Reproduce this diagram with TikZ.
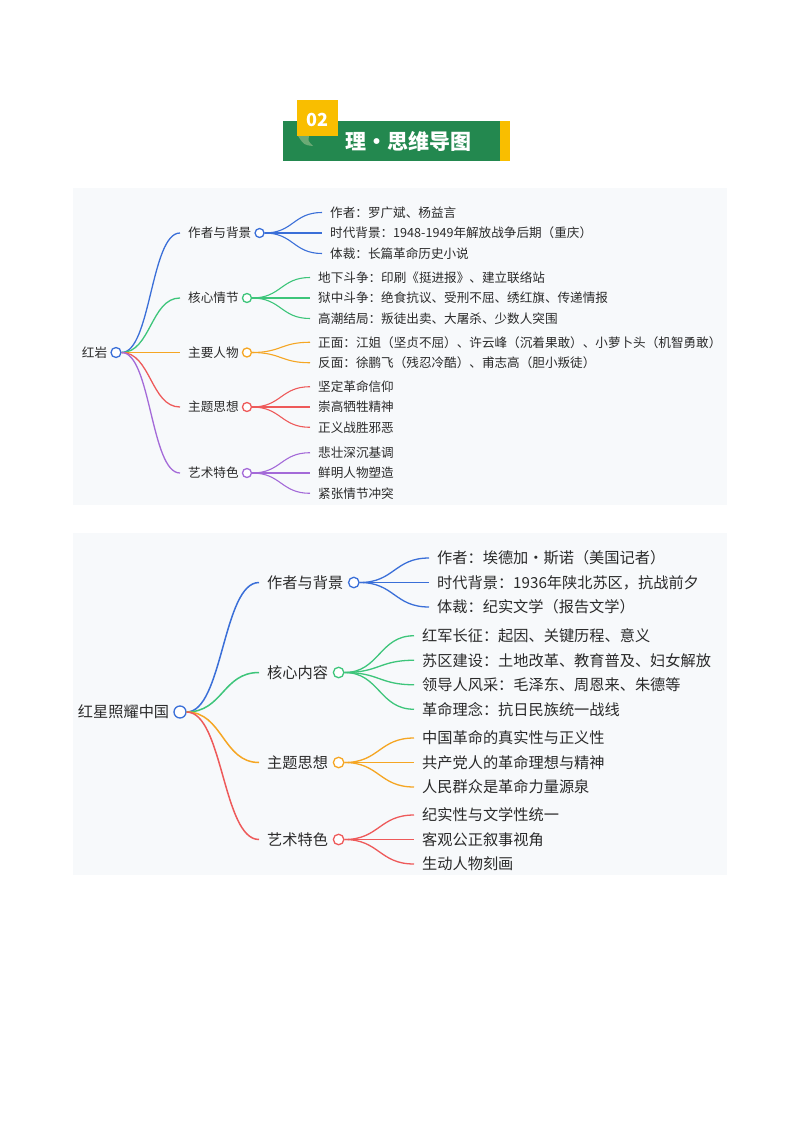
\documentclass[tikz,border=0pt]{standalone}
\usepackage{fontspec}
\usetikzlibrary{positioning,calc}
\newfontfamily\cjk{Noto Sans CJK SC}
\definecolor{mmblue}{HTML}{3A6FD8}
\definecolor{mmgreen}{HTML}{3DC57A}
\definecolor{mmorange}{HTML}{F5A623}
\definecolor{mmred}{HTML}{EE5A5A}
\definecolor{mmpurple}{HTML}{A46AD8}
\definecolor{banner}{HTML}{23884F}
\definecolor{fold}{HTML}{6BAA75}
\definecolor{gold}{HTML}{F9BE00}
\definecolor{panel}{HTML}{F7F9FB}
\definecolor{ink}{HTML}{2A2A2A}
\newcommand{\mmlink}[3]{\draw[#3] let \p1=(#1), \p2=(#2), \p3=($(\p1)!0.5!(\p2)$) in
  (\p1) .. controls (\x3,\y1) and (\x3,\y2) .. (\p2);}

\begin{document}
\begin{tikzpicture}[x=1pt,y=-1pt,
  hytext/.style={font=\cjk\fontsize{12.6}{15}\selectfont,text=ink,inner xsep=8pt,inner ysep=1pt,anchor=west},
  hxtext/.style={font=\cjk\fontsize{15.2}{18}\selectfont,text=ink,inner xsep=8pt,inner ysep=1pt,anchor=west},
  knob/.style={circle,draw,fill=white,inner sep=0pt,line width=1.3pt}]
  \useasboundingbox[fill=white] (0,0) rectangle (800,1132);
  % header
  \fill[banner] (283,121) rectangle (500,161);
  \fill[gold] (500,121) rectangle (510,161);
  \fill[gold] (297,100) rectangle (338,136);
  \fill[fold] (298,136) -- (309,136) .. controls (308,141) .. (313,146) .. controls (304,145) .. cycle;
  \node[font=\cjk\bfseries\fontsize{18}{20}\selectfont,text=white,inner sep=0pt] (num) at (317.5,120) {02};
  \node[font=\cjk\bfseries\fontsize{21}{24}\selectfont,text=white,inner sep=0pt,anchor=west] (title) at (345,141) {理・思维导图};
  \fill[panel] (73,188) rectangle (727,505);
  \fill[panel] (73,533) rectangle (727,875);

  % 红岩
  \node[knob,draw=mmblue,minimum size=10pt] (hy-o) at (116,352.5) {};
  \node[hytext,left=-5pt of hy-o] (hy) {红岩};
  \foreach \b/\t/\h/\c in {bg/作者与背景/233/mmblue, plot/核心情节/298/mmgreen, ppl/主要人物/352.5/mmorange,
      theme/主题思想/407/mmred, art/艺术特色/473/mmpurple}{
    \node[hytext] (\b) at (180,\h) {\t};
    \mmlink{hy-o.east}{\b.west}{\c,line width=1.3pt}
    \node[knob,draw=\c,minimum size=9pt,right=-5pt of \b] (\b-o) {};
  }
  \foreach \t [count=\i] in {作者：罗广斌、杨益言, 时代背景：1948-1949年解放战争后期（重庆）, 体裁：长篇革命历史小说}{
    \node[hytext] (bg-\i) at (322,{233+(\i-2)*20.5}) {\t};
    \mmlink{bg-o.east}{bg-\i.west}{mmblue,line width=1.1pt}
  }
  \foreach \t [count=\i] in {地下斗争：印刷《挺进报》、建立联络站, 狱中斗争：绝食抗议、受刑不屈、绣红旗、传递情报, 高潮结局：叛徒出卖、大屠杀、少数人突围}{
    \node[hytext] (plot-\i) at (310,{298+(\i-2)*20.5}) {\t};
    \mmlink{plot-o.east}{plot-\i.west}{mmgreen,line width=1.1pt}
  }
  \foreach \t [count=\i] in {正面：江姐（坚贞不屈）、许云峰（沉着果敢）、小萝卜头（机智勇敢）, 反面：徐鹏飞（残忍冷酷）、甫志高（胆小叛徒）}{
    \node[hytext] (ppl-\i) at (310,{352.5+(\i-1.5)*20.5}) {\t};
    \mmlink{ppl-o.east}{ppl-\i.west}{mmorange,line width=1.1pt}
  }
  \foreach \t [count=\i] in {坚定革命信仰, 崇高牺牲精神, 正义战胜邪恶}{
    \node[hytext] (theme-\i) at (310,{407+(\i-2)*20.3}) {\t};
    \mmlink{theme-o.east}{theme-\i.west}{mmred,line width=1.1pt}
  }
  \foreach \t [count=\i] in {悲壮深沉基调, 鲜明人物塑造, 紧张情节冲突}{
    \node[hytext] (art-\i) at (310,{473+(\i-2)*20.3}) {\t};
    \mmlink{art-o.east}{art-\i.west}{mmpurple,line width=1.1pt}
  }

  % 红星照耀中国
  \node[knob,draw=mmblue,minimum size=12pt] (hx-o) at (180,712) {};
  \node[hxtext,left=-4pt of hx-o] (hx) {红星照耀中国};
  \foreach \b/\t/\h/\c in {xbg/作者与背景/582.5/mmblue, xcont/核心内容/672.5/mmgreen,
      xtheme/主题思想/762.5/mmorange, xart/艺术特色/839.5/mmred}{
    \node[hxtext] (\b) at (259,\h) {\t};
    \mmlink{hx-o.east}{\b.west}{\c,line width=1.5pt}
    \node[knob,draw=\c,minimum size=10.5pt,right=-3.5pt of \b] (\b-o) {};
  }
  \foreach \t [count=\i] in {作者：埃德加・斯诺（美国记者）, 时代背景：1936年陕北苏区，抗战前夕, 体裁：纪实文学（报告文学）}{
    \node[hxtext] (xbg-\i) at (429,{582.5+(\i-2)*24.5}) {\t};
    \mmlink{xbg-o.east}{xbg-\i.west}{mmblue,line width=1.3pt}
  }
  \foreach \t [count=\i] in {红军长征：起因、关键历程、意义, 苏区建设：土地改革、教育普及、妇女解放, 领导人风采：毛泽东、周恩来、朱德等, 革命理念：抗日民族统一战线}{
    \node[hxtext] (xcont-\i) at (414,{672.5+(\i-2.5)*24.5}) {\t};
    \mmlink{xcont-o.east}{xcont-\i.west}{mmgreen,line width=1.3pt}
  }
  \foreach \t [count=\i] in {中国革命的真实性与正义性, 共产党人的革命理想与精神, 人民群众是革命力量源泉}{
    \node[hxtext] (xtheme-\i) at (414,{762.5+(\i-2)*24.5}) {\t};
    \mmlink{xtheme-o.east}{xtheme-\i.west}{mmorange,line width=1.3pt}
  }
  \foreach \t [count=\i] in {纪实性与文学性统一, 客观公正叙事视角, 生动人物刻画}{
    \node[hxtext] (xart-\i) at (414,{839.5+(\i-2)*24.5}) {\t};
    \mmlink{xart-o.east}{xart-\i.west}{mmred,line width=1.3pt}
  }
\end{tikzpicture}
\end{document}
